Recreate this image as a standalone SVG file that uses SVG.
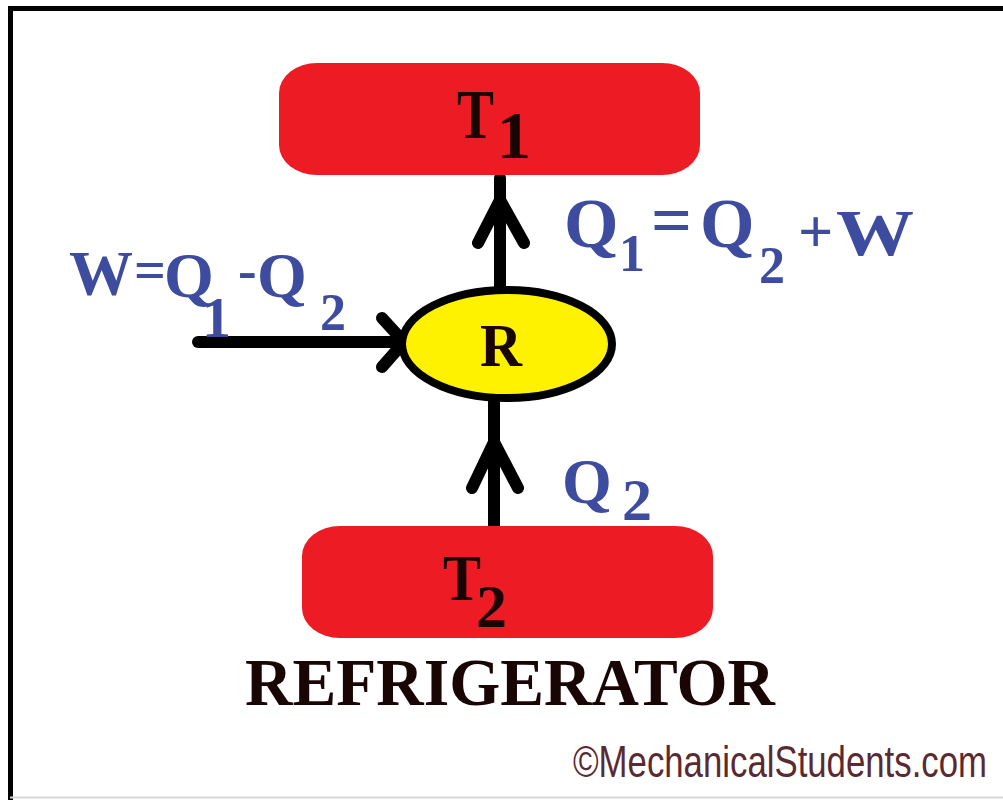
<svg xmlns="http://www.w3.org/2000/svg" width="1003" height="800" viewBox="0 0 1003 800">
<style>
.res{fill:#ED1C24;}
.dark{font-family:"Liberation Serif","Times New Roman",serif;font-weight:bold;fill:#1a0505;}
.blue{font-family:"Liberation Serif","Times New Roman",serif;font-weight:bold;fill:#3D4C9E;}
.conn{stroke:#000;stroke-width:12;stroke-linecap:round;stroke-linejoin:round;fill:none;}
</style>
<rect x="0" y="0" width="1003" height="800" fill="#fff"/>
<path d="M10.5,800 V8.5 H1003" fill="none" stroke="#000" stroke-width="5"/>
<line x1="10" y1="797.5" x2="1003" y2="797.5" stroke="#d8d8d8" stroke-width="2"/>

<g id="connectors">
  <path class="conn" d="M500,290 V178"/>
  <path class="conn" d="M478,243 L500,200 L524,243"/>
  <path class="conn" d="M198,342 H400"/>
  <path class="conn" d="M382,318 L404,342 L382,367"/>
  <path class="conn" d="M494,527 V402"/>
  <path class="conn" d="M472,488 L494,442 L518,488"/>
</g>

<g id="T1">
  <rect class="res" x="279" y="63" width="421" height="112" rx="38" ry="30"/>
  <text class="dark" x="457" y="138" font-size="70" textLength="37" lengthAdjust="spacingAndGlyphs">T</text>
  <text class="dark" x="497" y="158" font-size="68">1</text>
</g>

<g id="T2">
  <rect class="res" x="302" y="526" width="411" height="112" rx="38" ry="30"/>
  <text class="dark" x="443" y="600" font-size="65" textLength="38" lengthAdjust="spacingAndGlyphs">T</text>
  <text class="dark" x="476" y="627" font-size="62">2</text>
</g>

<g id="R">
  <ellipse cx="507" cy="344" rx="105" ry="54" fill="#FFF200" stroke="#000" stroke-width="8"/>
  <text class="dark" x="480" y="366" font-size="62" textLength="42" lengthAdjust="spacingAndGlyphs">R</text>
</g>

<g id="label-Q1">
  <text class="blue" x="564" y="247" font-size="70">Q</text>
  <text class="blue" x="619" y="271" font-size="52">1</text>
  <text class="blue" x="651" y="244" font-size="72">=</text>
  <text class="blue" x="700" y="247" font-size="70">Q</text>
  <text class="blue" x="759" y="283" font-size="52">2</text>
  <text class="blue" x="798" y="252" font-size="62">+</text>
  <text class="blue" x="836" y="255" font-size="66" textLength="78" lengthAdjust="spacingAndGlyphs">W</text>
</g>

<g id="label-W">
  <text class="blue" x="69" y="295" font-size="64">W</text>
  <text class="blue" x="134" y="289" font-size="56">=</text>
  <text class="blue" x="164" y="297" font-size="64">Q</text>
  <text class="blue" x="202" y="337" font-size="58">1</text>
  <text class="blue" x="238" y="289" font-size="56">-</text>
  <text class="blue" x="257" y="297" font-size="64">Q</text>
  <text class="blue" x="320" y="330" font-size="52">2</text>
</g>

<g id="label-Q2">
  <text class="blue" x="562" y="503" font-size="64">Q</text>
  <text class="blue" x="622" y="520" font-size="60">2</text>
</g>

<text class="dark" x="245" y="705" font-size="68" textLength="530" lengthAdjust="spacingAndGlyphs" fill="#111">REFRIGERATOR</text>
<text x="573" y="777" font-family="Liberation Sans, Arial, sans-serif" font-size="44" fill="#5A2A32" textLength="414" lengthAdjust="spacingAndGlyphs">©MechanicalStudents.com</text>
</svg>
